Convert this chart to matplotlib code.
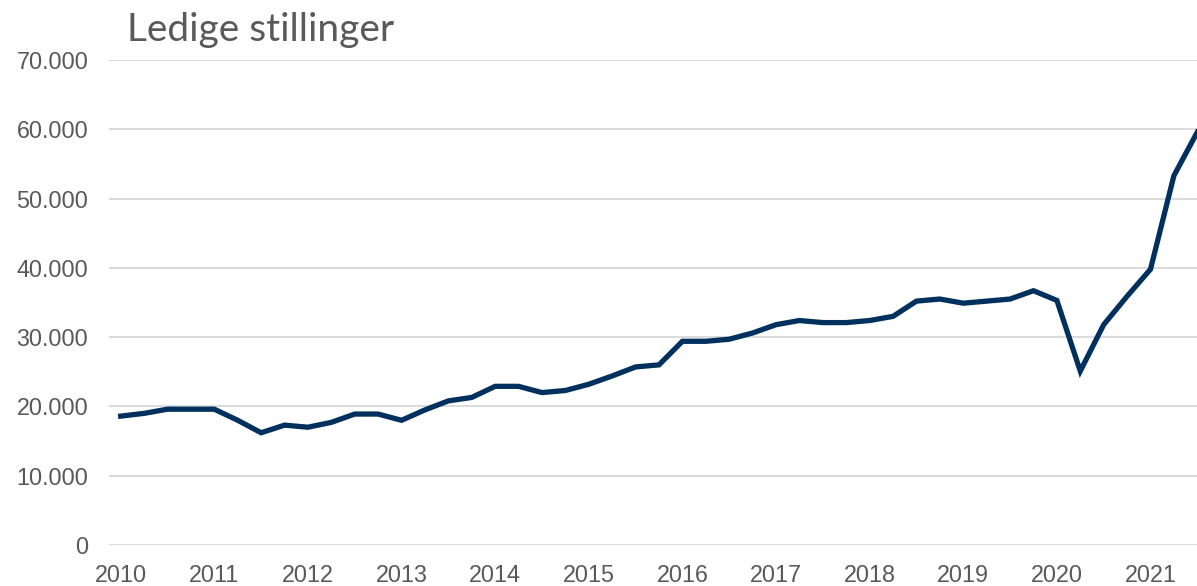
import numpy as np
from matplotlib import pyplot as plt

# Ledige stillinger, kvartalsvis 2010K1 - 2021K3
years = list(range(2010, 2022))
vacancies = [18600, 19000, 19600, 19600,
             19600, 18000, 16200, 17300,
             17000, 17700, 18900, 18900,
             18000, 19500, 20800, 21300,
             22900, 22900, 22000, 22300,
             23200, 24400, 25700, 26000,
             29400, 29400, 29700, 30600,
             31800, 32400, 32100, 32100,
             32400, 33000, 35200, 35500,
             34900, 35200, 35500, 36700,
             35300, 25100, 31800, 35900,
             39800, 53300, 59600]
yticks = [0, 10000, 20000, 30000, 40000, 50000, 60000, 70000]

grey = '#595959'
plt.rcParams['font.family'] = ['Liberation Sans', 'DejaVu Sans']

fig = plt.figure(figsize=(11.97, 5.86), dpi=100)
ax = fig.add_axes([109/1197, 1 - 545/586, 1100/1197, 485/586])

x = np.arange(len(vacancies))
ax.plot(x, vacancies, color='#00305e', linewidth=3.8, solid_joinstyle='miter')

ax.set_xlim(-0.5, len(vacancies) - 0.5)
ax.set_ylim(0, 70000)
ax.set_yticks(yticks)
ax.set_yticklabels(['0' if v == 0 else f'{v:,}'.replace(',', '.') for v in yticks])
ax.set_xticks(np.arange(0, len(vacancies), 4))
ax.set_xticklabels([str(y) for y in years])

ax.grid(axis='y', color='#d9d9d9', linewidth=1.3)
ax.set_axisbelow(True)
for s in ax.spines.values():
    s.set_visible(False)
ax.tick_params(axis='both', length=0, colors=grey, labelsize=16.8)
ax.tick_params(axis='y', pad=15)
ax.tick_params(axis='x', pad=13.5)

fig.text(127/1197, 1 - 41/586, 'Ledige stillinger', fontsize=28, color=grey,
         family='Lato', ha='left', va='baseline')

fig.savefig('out.png', dpi=100)
